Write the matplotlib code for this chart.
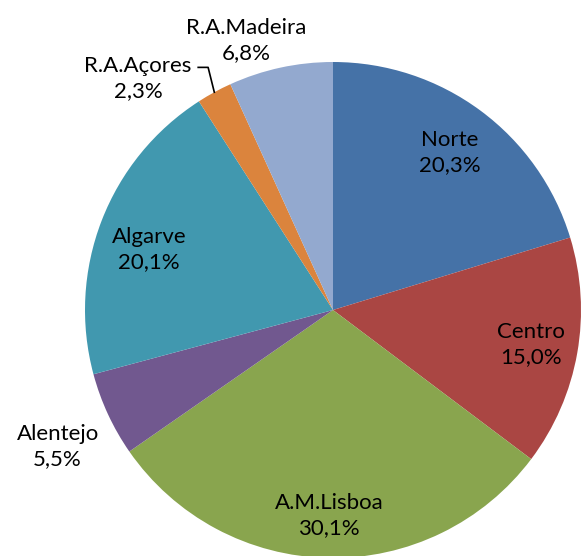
import numpy as np
import matplotlib.pyplot as plt

regions = ['Norte', 'Centro', 'A.M.Lisboa', 'Alentejo', 'Algarve', 'R.A.Açores', 'R.A.Madeira']
shares = [20.3, 15.0, 30.1, 5.5, 20.1, 2.3, 6.8]
colors = ['#4572A7', '#AA4643', '#89A54E', '#71588F', '#4198AF', '#DB843D', '#93A9CF']

# label placement: radial distance (pie radius = 1) and angle nudge in degrees
label_dist = [0.79, 0.81, 0.83, 1.24, 0.78, 1.22, 1.14]
label_turn = [0, 0, 0, 1.5, 3, 11.5, 5.6]

plt.rcParams['font.family'] = ['Lato', 'DejaVu Sans']

fig = plt.figure(figsize=(5.81, 5.56), dpi=100)
ax = fig.add_axes([0, 0, 1, 1])
R = 248.0  # pie radius in pixels

wedges, _ = ax.pie(shares, colors=colors, startangle=90, counterclock=False,
                   radius=1, center=(0, 0), frame=True)
ax.set_xlim(-333 / R, (581 - 333) / R)
ax.set_ylim(-(556 - 310) / R, 310 / R)
ax.set_aspect('auto')
ax.axis('off')

for w, name, val, d, t in zip(wedges, regions, shares, label_dist, label_turn):
    mid = np.deg2rad((w.theta1 + w.theta2) / 2 + t)
    x, y = d * np.cos(mid), d * np.sin(mid)
    txt = name + '\n' + f'{val:.1f}'.replace('.', ',') + '%'
    ax.text(x, y, txt, ha='center', va='center', fontsize=16, color='black',
            linespacing=1.3)
    if name == 'R.A.Açores':
        # leader line from wedge edge to the label
        m0 = np.deg2rad((w.theta1 + w.theta2) / 2)
        ex, ey = np.cos(m0), np.sin(m0)
        kx, ky = ex - 0.025, y + 0.045
        ax.plot([ex, kx, kx - 0.04], [ey, ky, ky], color='black', lw=1.2)

fig.savefig('out.png', dpi=100)
